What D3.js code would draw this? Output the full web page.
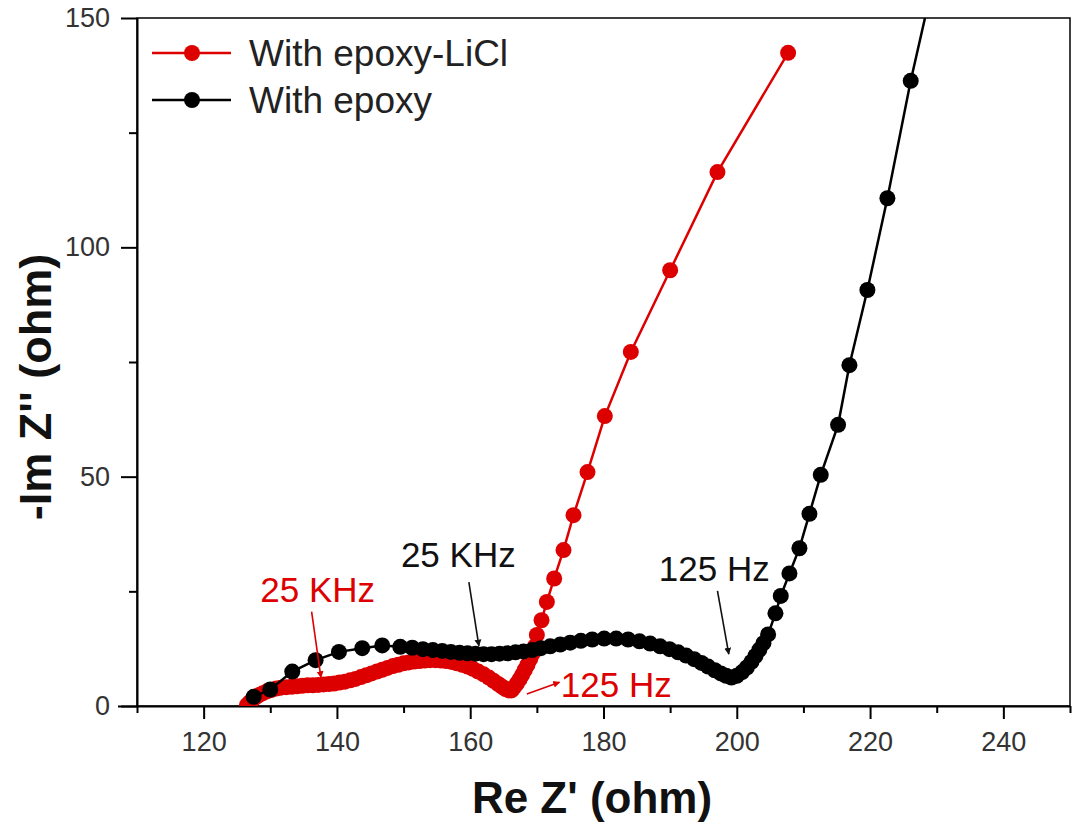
<!DOCTYPE html>
<html>
<head>
<meta charset="utf-8">
<script src="https://cdn.jsdelivr.net/npm/d3@7"></script>
<style>
  body { margin: 0; background: #fff; }
  svg { font-family: 'Liberation Sans', Arial, sans-serif; }
</style>
</head>
<body>
<svg id="chart" width="1077" height="835"></svg>
<script>
// Nyquist data (Re Z', -Im Z'')
const licl_re = [126.5, 126.9, 127.3, 127.8, 128.3, 128.9, 129.5, 130.2, 130.9, 131.6, 132.4, 133.2, 134.0, 134.8,
  135.6, 136.4, 137.2, 138.0, 138.8, 139.6, 140.4, 141.2, 142.0, 142.8, 143.6, 144.4, 145.2, 146.0, 146.8, 147.6,
  148.4, 149.2, 150.0, 150.8, 151.6, 152.4, 153.2, 154.0, 154.8, 155.6, 156.4, 157.2, 158.0, 158.8, 159.6, 160.4,
  161.2, 162.0, 162.8, 163.5, 164.2, 164.8, 165.3, 165.8, 166.2, 166.6, 167.0, 167.4, 167.8, 168.2, 168.6, 169.0,
  169.4, 169.7, 170.0, 170.7, 171.5, 172.6, 174.0, 175.5, 177.6, 180.2, 184.1, 190.0, 197.1, 207.7];
const licl_im = [0.2, 0.8, 1.3, 1.9, 2.4, 2.8, 3.2, 3.5, 3.8, 4.0, 4.1, 4.2, 4.3, 4.4,
  4.5, 4.5, 4.6, 4.7, 4.8, 4.9, 5.1, 5.3, 5.6, 5.9, 6.3, 6.7, 7.1, 7.5, 7.9, 8.3,
  8.7, 9.0, 9.3, 9.5, 9.7, 9.8, 9.9, 10.0, 10.0, 9.9, 9.8, 9.6, 9.3, 9.0, 8.6, 8.1,
  7.5, 6.9, 6.2, 5.5, 4.8, 4.2, 3.7, 3.4, 3.4, 4.1, 4.9, 5.8, 6.8, 7.9, 9.0, 10.2,
  11.5, 13.0, 15.5, 18.7, 22.7, 27.8, 34.0, 41.6, 51.0, 63.2, 77.2, 95.0, 116.4, 142.4];

const epoxy_re = [127.5, 130.0, 133.3, 136.8, 140.3, 143.8, 146.8, 149.5, 151.3, 152.9, 154.4, 155.8, 157.1, 158.4,
  159.6, 160.8, 162.0, 163.2, 164.4, 165.6, 166.8, 168.0, 169.3, 170.6, 172.0, 173.5, 175.0, 176.6, 178.3, 180.1,
  181.9, 183.7, 185.4, 187.0, 188.5, 189.9, 191.2, 192.4, 193.6, 194.7, 195.7, 196.7, 197.6, 198.4, 199.2, 200.0,
  200.8, 201.5, 202.2, 202.8, 203.4, 204.0, 204.7, 205.8, 206.6, 207.9, 209.4, 210.9, 212.6, 215.2, 216.9, 219.6,
  222.6, 226.1, 229.8];
const epoxy_im = [2.0, 3.6, 7.5, 10.0, 11.8, 12.6, 13.2, 12.9, 12.7, 12.4, 12.2, 12.0, 11.8, 11.6,
  11.5, 11.4, 11.3, 11.3, 11.4, 11.5, 11.7, 11.9, 12.2, 12.6, 13.0, 13.4, 13.8, 14.2, 14.5, 14.7,
  14.7, 14.5, 14.1, 13.6, 13.0, 12.4, 11.7, 11.0, 10.2, 9.4, 8.6, 7.8, 7.1, 6.6, 6.2, 6.6,
  7.4, 8.4, 9.6, 10.9, 12.3, 13.7, 15.6, 20.2, 24.0, 28.9, 34.4, 41.9, 50.4, 61.3, 74.3, 90.7,
  110.7, 136.3, 160.0];

const xMajor = [120, 140, 160, 180, 200, 220, 240];
const xMinor = [110, 130, 150, 170, 190, 210, 230, 250];
const yMajor = [0, 50, 100, 150];
const yMinor = [25, 75, 125];

const seriesNames = ['With epoxy-LiCl', 'With epoxy'];
const seriesColors = ['#dd0000', '#000000'];

// frequency labels: text position and arrow from/to, in data units
const notes = [
  { text: '25 KHz', color: '#dd0000', x: 128.5, y: 22.7, from: [136.2, 20.6], to: [137.6, 6.2] },
  { text: '25 KHz', color: '#111111', x: 149.6, y: 30.3, from: [159.8, 27.0], to: [161.3, 13.1] },
  { text: '125 Hz', color: '#111111', x: 188.3, y: 27.3, from: [197.1, 25.1], to: [198.8, 11.3] },
  { text: '125 Hz', color: '#dd0000', x: 173.6, y: 1.95, from: [168.5, 2.6], to: [173.4, 5.2] }
];

const margin = { top: 18, left: 137, right: 7, bottom: 129 };
const W = 1077, H = 835;

const x = d3.scaleLinear().domain([110, 250]).range([margin.left, W - margin.right]);
const y = d3.scaleLinear().domain([0, 150]).range([H - margin.bottom, margin.top]);

const svg = d3.select('#chart');

svg.append('defs').append('clipPath').attr('id', 'clip')
  .append('rect')
  .attr('x', x(110)).attr('y', y(150))
  .attr('width', x(250) - x(110)).attr('height', y(0) - y(150));

['red', 'black'].forEach((k, i) => {
  svg.select('defs').append('marker')
    .attr('id', 'arrow-' + k)
    .attr('viewBox', '0 0 10 10')
    .attr('refX', 9).attr('refY', 5)
    .attr('markerWidth', 7).attr('markerHeight', 9)
    .attr('markerUnits', 'userSpaceOnUse')
    .attr('orient', 'auto')
    .append('path')
    .attr('d', 'M0,0 L10,5 L0,10 Z')
    .attr('fill', i === 0 ? '#dd0000' : '#111');
});

// frame
svg.append('rect')
  .attr('x', x(110)).attr('y', y(150))
  .attr('width', x(250) - x(110)).attr('height', y(0) - y(150))
  .attr('fill', 'none').attr('stroke', '#000').attr('stroke-width', 1.5);

// axes
const tickFont = g => g.selectAll('text')
  .attr('font-size', 27).attr('fill', '#333')
  .attr('font-family', "'Liberation Sans', Arial, sans-serif");

svg.append('g').attr('transform', `translate(0,${y(0)})`)
  .call(d3.axisBottom(x).tickValues(xMinor).tickSize(7).tickFormat(''))
  .call(g => g.select('.domain').remove())
  .call(g => g.selectAll('line').attr('stroke-width', 2));

svg.append('g').attr('transform', `translate(0,${y(0)})`)
  .call(d3.axisBottom(x).tickValues(xMajor).tickSize(13).tickPadding(13))
  .call(g => g.select('.domain').attr('stroke-width', 2).attr('d', `M${x(110) - 19},0.5H${x(250)}`))
  .call(g => g.selectAll('line').attr('stroke-width', 2))
  .call(tickFont);

svg.append('g').attr('transform', `translate(${x(110)},0)`)
  .call(d3.axisLeft(y).tickValues(yMinor).tickSize(8).tickFormat(''))
  .call(g => g.select('.domain').remove())
  .call(g => g.selectAll('line').attr('stroke-width', 2));

svg.append('g').attr('transform', `translate(${x(110)},0)`)
  .call(d3.axisLeft(y).tickValues(yMajor).tickSize(16).tickPadding(11))
  .call(g => g.select('.domain').attr('stroke-width', 2).attr('d', `M0.5,${y(150)}V${y(0)}`))
  .call(g => g.selectAll('line').attr('stroke-width', 2))
  .call(tickFont);

// axis titles
svg.append('text')
  .attr('x', 592).attr('y', 813)
  .attr('text-anchor', 'middle')
  .attr('font-size', 44).attr('font-weight', 'bold').attr('fill', '#111')
  .text("Re Z' (ohm)");

svg.append('text')
  .attr('transform', `translate(51,387) rotate(-90)`)
  .attr('text-anchor', 'middle')
  .attr('font-size', 45).attr('font-weight', 'bold').attr('fill', '#111')
  .text("-Im Z'' (ohm)");

// series
const series = [
  licl_re.map((v, i) => [v, licl_im[i]]),
  epoxy_re.map((v, i) => [v, epoxy_im[i]])
];

const line = d3.line().x(d => x(d[0])).y(d => y(d[1]));
const plot = svg.append('g').attr('clip-path', 'url(#clip)');

series.forEach((pts, i) => {
  const g = plot.append('g');
  g.append('path')
    .datum(pts)
    .attr('d', line)
    .attr('fill', 'none')
    .attr('stroke', seriesColors[i])
    .attr('stroke-width', 2.5);
  g.selectAll('circle')
    .data(pts)
    .enter().append('circle')
    .attr('cx', d => x(d[0]))
    .attr('cy', d => y(d[1]))
    .attr('r', 8)
    .attr('fill', seriesColors[i]);
});

// annotations
notes.forEach(n => {
  svg.append('text')
    .attr('x', x(n.x)).attr('y', y(n.y))
    .attr('font-size', 35).attr('fill', n.color)
    .text(n.text);
  svg.append('line')
    .attr('x1', x(n.from[0])).attr('y1', y(n.from[1]))
    .attr('x2', x(n.to[0])).attr('y2', y(n.to[1]))
    .attr('stroke', n.color).attr('stroke-width', 1.6)
    .attr('marker-end', n.color === '#dd0000' ? 'url(#arrow-red)' : 'url(#arrow-black)');
});

// legend
const legend = svg.append('g');
seriesNames.forEach((name, i) => {
  const ly = 53 + i * 47;
  legend.append('line')
    .attr('x1', 152).attr('x2', 231).attr('y1', ly).attr('y2', ly)
    .attr('stroke', seriesColors[i]).attr('stroke-width', 2.5);
  legend.append('circle')
    .attr('cx', 192).attr('cy', ly).attr('r', 8)
    .attr('fill', seriesColors[i]);
  legend.append('text')
    .attr('x', 249).attr('y', ly + 13)
    .attr('font-size', 37).attr('fill', '#222')
    .text(name);
});
</script>
</body>
</html>
